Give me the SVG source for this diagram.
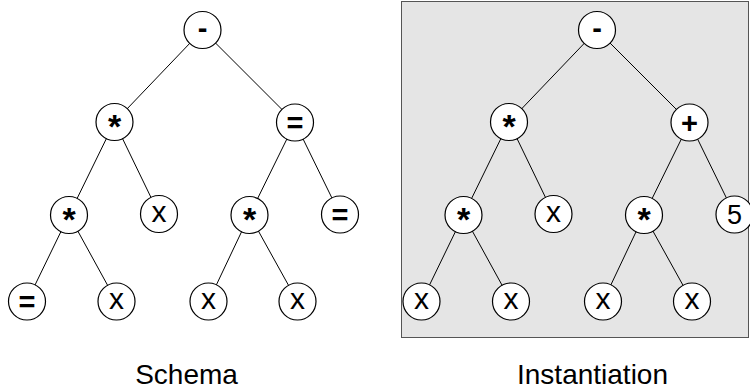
<svg xmlns="http://www.w3.org/2000/svg" width="750" height="392" viewBox="0 0 750 392">
<style>
.e{stroke:#000;stroke-width:1;fill:none}
.n circle{fill:#fff;stroke:#000;stroke-width:1.2}
.n text{font-family:"Liberation Sans",Arial,sans-serif;font-weight:bold;font-size:29px;text-anchor:middle;fill:#000}
.n text.v{font-weight:normal;font-size:30px}
.n text.s{font-size:34px}
.n text.r{font-weight:normal;font-size:27px}
.cap{font-family:"Liberation Sans",Arial,sans-serif;font-size:28px;text-anchor:middle;fill:#000}
</style>
<rect id="panel" x="401.5" y="1.5" width="347" height="336" fill="#e5e5e5" stroke="#555" stroke-width="1"/>
<g id="connectors">
<line class="e" x1="202.5" y1="30" x2="114.5" y2="122"/>
<line class="e" x1="202.5" y1="30" x2="295" y2="122.5"/>
<line class="e" x1="114.5" y1="122" x2="69" y2="215"/>
<line class="e" x1="114.5" y1="122" x2="159" y2="214"/>
<line class="e" x1="295" y1="122.5" x2="249.5" y2="215"/>
<line class="e" x1="295" y1="122.5" x2="340" y2="214.5"/>
<line class="e" x1="69" y1="215" x2="27" y2="301.5"/>
<line class="e" x1="69" y1="215" x2="116.5" y2="301.5"/>
<line class="e" x1="249.5" y1="215" x2="208.5" y2="301.5"/>
<line class="e" x1="249.5" y1="215" x2="297.5" y2="301.5"/>
<line class="e" x1="597" y1="30" x2="509" y2="122"/>
<line class="e" x1="597" y1="30" x2="689.5" y2="122.5"/>
<line class="e" x1="509" y1="122" x2="463.5" y2="215"/>
<line class="e" x1="509" y1="122" x2="553.5" y2="214"/>
<line class="e" x1="689.5" y1="122.5" x2="644" y2="215"/>
<line class="e" x1="689.5" y1="122.5" x2="734.5" y2="214.5"/>
<line class="e" x1="463.5" y1="215" x2="421.5" y2="301.5"/>
<line class="e" x1="463.5" y1="215" x2="511" y2="301.5"/>
<line class="e" x1="644" y1="215" x2="603" y2="301.5"/>
<line class="e" x1="644" y1="215" x2="692" y2="301.5"/>
</g>
<g id="s-root" class="n"><circle cx="202.5" cy="30" r="18.5"/><text x="202.5" y="38">-</text></g>
<g id="s-mul1" class="n"><circle cx="114.5" cy="122" r="18.5"/><text class="s" x="114.5" y="138">*</text></g>
<g id="s-eq1" class="n"><circle cx="295" cy="122.5" r="18.5"/><text x="295" y="133">=</text></g>
<g id="s-mul2" class="n"><circle cx="69" cy="215" r="18.5"/><text class="s" x="69" y="231">*</text></g>
<g id="s-x1" class="n"><circle cx="159" cy="214" r="18.5"/><text class="v" x="159" y="221.5">x</text></g>
<g id="s-mul3" class="n"><circle cx="249.5" cy="215" r="18.5"/><text class="s" x="249.5" y="231">*</text></g>
<g id="s-eq2" class="n"><circle cx="340" cy="214.5" r="18.5"/><text x="340" y="225">=</text></g>
<g id="s-eq3" class="n"><circle cx="27" cy="301.5" r="18.5"/><text x="27" y="312">=</text></g>
<g id="s-x2" class="n"><circle cx="116.5" cy="301.5" r="18.5"/><text class="v" x="116.5" y="309">x</text></g>
<g id="s-x3" class="n"><circle cx="208.5" cy="301.5" r="18.5"/><text class="v" x="208.5" y="309">x</text></g>
<g id="s-x4" class="n"><circle cx="297.5" cy="301.5" r="18.5"/><text class="v" x="297.5" y="309">x</text></g>
<g id="i-root" class="n"><circle cx="597" cy="30" r="18.5"/><text x="597" y="38">-</text></g>
<g id="i-mul1" class="n"><circle cx="509" cy="122" r="18.5"/><text class="s" x="509" y="138">*</text></g>
<g id="i-plus" class="n"><circle cx="689.5" cy="122.5" r="18.5"/><text x="689.5" y="133">+</text></g>
<g id="i-mul2" class="n"><circle cx="463.5" cy="215" r="18.5"/><text class="s" x="463.5" y="231">*</text></g>
<g id="i-x1" class="n"><circle cx="553.5" cy="214" r="18.5"/><text class="v" x="553.5" y="221.5">x</text></g>
<g id="i-mul3" class="n"><circle cx="644" cy="215" r="18.5"/><text class="s" x="644" y="231">*</text></g>
<g id="i-five" class="n"><circle cx="734.5" cy="214.5" r="18.5"/><text class="r" x="734.5" y="224">5</text></g>
<g id="i-x2" class="n"><circle cx="421.5" cy="301.5" r="18.5"/><text class="v" x="421.5" y="309">x</text></g>
<g id="i-x3" class="n"><circle cx="511" cy="301.5" r="18.5"/><text class="v" x="511" y="309">x</text></g>
<g id="i-x4" class="n"><circle cx="603" cy="301.5" r="18.5"/><text class="v" x="603" y="309">x</text></g>
<g id="i-x5" class="n"><circle cx="692" cy="301.5" r="18.5"/><text class="v" x="692" y="309">x</text></g>
<text class="cap" x="186.5" y="384">Schema</text>
<text class="cap" x="592.5" y="384">Instantiation</text>
</svg>
